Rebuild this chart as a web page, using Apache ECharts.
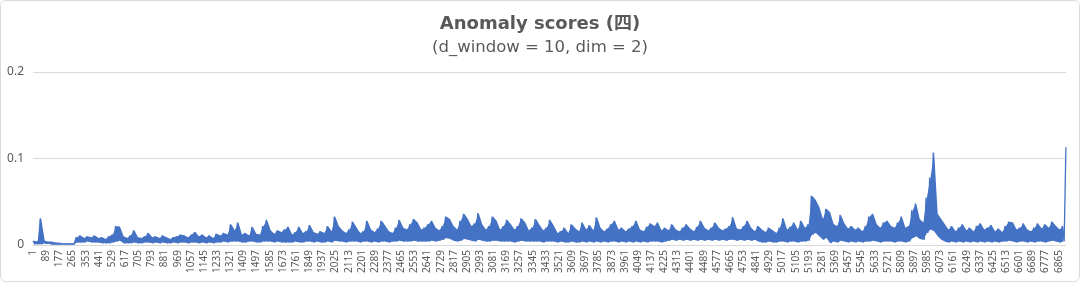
<!DOCTYPE html>
<html>
<head>
<meta charset="utf-8">
<script src="https://cdn.jsdelivr.net/npm/echarts@6/dist/echarts.min.js"></script>
<style>
  html, body { margin: 0; padding: 0; background: #fff; }
  #wrap { position: relative; width: 1080px; height: 282px; box-sizing: border-box; border: 1px solid #d9d9d9; border-radius: 6px; overflow: hidden; }
  #chart { position: absolute; left: -1px; top: -1px; width: 1080px; height: 282px; }
</style>
</head>
<body>
<div id="wrap"><div id="chart"></div></div>
<script>
// ---- data (values in thousandths) ----
const titleText = 'Anomaly scores (四)';
const subtitleText = '(d_window = 10, dim = 2)';
const pointCount = 6913;          // observations on the x axis (1..6913)
const segment = 24;               // observations per high/low pair
const labelStep = 88;             // x tick label every 88 observations
const yTicks = [0, 0.1, 0.2];
// upper readings per segment
const highs = [
 5,4,31,5,4,4,3,3,2,2,2,2,9,11,8,10,9,11,8,9,
 7,10,12,22,21,10,8,11,17,9,8,10,14,9,10,8,11,9,7,9,
 10,12,11,9,12,15,10,12,9,11,8,13,11,14,12,24,17,26,12,14,
 11,21,13,12,22,29,17,13,17,15,18,21,12,15,21,14,16,23,15,13,
 16,14,22,16,33,22,17,14,18,27,20,14,16,28,18,15,19,28,22,16,
 14,20,29,20,18,24,30,26,18,20,24,28,20,17,22,33,30,22,18,28,
 36,30,22,25,37,24,18,22,33,28,18,22,29,24,18,22,31,26,17,20,
 30,23,17,20,29,22,14,16,20,14,24,19,16,26,18,23,17,32,20,16,
 19,24,28,18,20,16,19,22,28,18,16,21,25,22,26,17,20,17,24,18,
 16,20,24,19,16,21,28,20,17,20,26,20,17,19,22,32,19,18,22,28,
 20,16,22,18,15,20,17,14,20,31,18,21,26,18,28,20,24,57,52,44,
 30,42,38,24,22,35,25,19,22,18,20,16,22,33,36,24,20,26,28,22,
 20,26,33,20,22,40,48,30,26,55,78,107,36,30,24,18,22,16,20,24,
 17,20,16,22,25,18,20,23,16,19,15,22,27,26,18,20,25,18,16,20,
 25,19,24,20,27,22,18,22,113
];
// lower readings per segment
const lows = [
 1,1,1,2,2,1,1,1,1,1,1,1,3,3,3,4,3,3,3,2,
 2,2,3,4,5,2,2,2,3,2,2,3,3,2,3,2,3,2,2,3,
 2,3,3,2,3,3,2,3,2,3,2,3,3,4,3,4,4,4,3,3,
 4,4,3,3,4,4,4,3,4,3,3,3,3,4,3,3,4,4,3,4,
 3,3,4,3,5,4,4,3,4,4,4,3,4,4,3,4,3,4,4,3,
 4,4,5,4,4,4,5,4,4,4,4,5,4,5,6,8,7,5,4,5,
 7,6,5,4,6,5,4,4,5,5,4,4,4,4,3,4,5,4,4,4,
 4,4,3,4,4,4,3,4,3,3,4,3,3,4,3,4,3,4,3,4,
 3,4,4,3,4,3,4,3,4,3,4,3,4,4,4,3,4,5,6,5,
 6,5,6,5,6,5,6,5,6,5,6,5,6,5,6,6,5,6,5,6,
 5,6,4,3,3,4,3,3,4,4,3,4,4,3,4,4,5,12,14,10,
 6,8,2,4,3,5,4,3,4,3,4,3,4,4,5,4,3,4,4,4,
 3,4,4,3,4,8,10,7,6,14,18,16,10,6,4,3,4,3,4,3,
 4,3,4,3,4,3,4,3,4,3,4,4,5,4,3,4,4,3,4,3,
 4,4,3,4,5,4,3,4
];

const categories = Array.from({ length: pointCount }, (_, i) => String(i + 1));
// zig-zag line through the readings
const lineData = [];
highs.forEach((h, j) => {
  lineData.push([j * segment, h / 1000]);
  if (j < lows.length) lineData.push([j * segment + segment / 2, lows[j] / 1000]);
});
// filled band between the low and high readings
const bandBase = lows.map((l, j) => [j * segment + segment / 4, l / 1000]);
const bandSpan = lows.map((l, j) => [j * segment + segment / 4, Math.max(0, highs[j] - l) / 1000]);

const blue = '#4472C4';
const textColor = '#595959';
const font = '"Noto Sans", "Noto Sans CJK SC", sans-serif';
const titleFont = '"DejaVu Sans", "Noto Sans CJK SC", sans-serif';
const chart = echarts.init(document.getElementById('chart'), null, { renderer: 'canvas' });
chart.setOption({
  animation: false,
  backgroundColor: '#ffffff',
  title: {
    text: titleText,
    subtext: subtitleText,
    left: 'center',
    top: 10,
    itemGap: 6,
    textStyle: { fontFamily: titleFont, fontSize: 18, fontWeight: 'bold', color: textColor },
    subtextStyle: { fontFamily: titleFont, fontSize: 16.5, color: textColor }
  },
  grid: { left: 33, right: 14, top: 72, bottom: 37, containLabel: false },
  xAxis: {
    type: 'category',
    data: categories,
    boundaryGap: true,
    axisLine: { show: true, lineStyle: { color: '#d9d9d9', width: 1 } },
    axisTick: { show: false },
    axisLabel: {
      interval: labelStep - 1,
      rotate: 90,
      fontSize: 10,
      fontFamily: font,
      color: textColor,
      margin: 5
    },
    splitLine: { show: false }
  },
  yAxis: {
    type: 'value',
    min: yTicks[0],
    max: yTicks[yTicks.length - 1],
    interval: yTicks[1] - yTicks[0],
    axisLine: { show: false },
    axisTick: { show: false },
    axisLabel: {
      fontSize: 12,
      fontFamily: font,
      color: textColor,
      margin: 9,
      formatter: v => String(Math.round(v * 10) / 10)
    },
    splitLine: { lineStyle: { color: '#d9d9d9', width: 1 } }
  },
  series: [
    {
      type: 'line', stack: 'band', data: bandBase, symbol: 'none',
      lineStyle: { width: 0, opacity: 0 }, silent: true, z: 1
    },
    {
      type: 'line', stack: 'band', data: bandSpan, symbol: 'none',
      lineStyle: { width: 0, opacity: 0 },
      areaStyle: { color: blue, opacity: 1 }, silent: true, z: 1
    },
    {
      type: 'line',
      data: lineData,
      showSymbol: false,
      symbol: 'none',
      sampling: null,
      lineStyle: { color: blue, width: 1.3 },
      itemStyle: { color: blue },
      z: 2
    }
  ]
});
</script>
</body>
</html>
